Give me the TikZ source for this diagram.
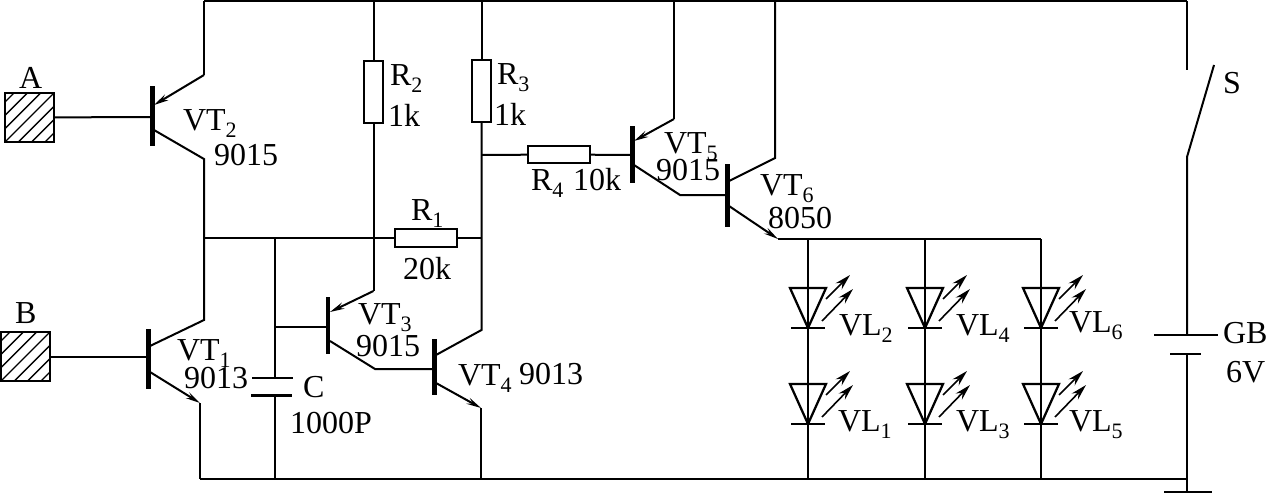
\documentclass[tikz,border=0pt]{standalone}
\usepackage{fontspec}
\setmainfont{Liberation Serif}
\usetikzlibrary{arrows.meta}
\newcommand\sbs[1]{\raisebox{-0.22em}{\fontsize{16.5pt}{16.5pt}\selectfont #1}}
\tikzset{
  wire/.style={line width=1.5pt,line join=miter},
  lbl/.style={anchor=base west,inner sep=0pt,outer sep=0pt,font=\fontsize{24pt}{24pt}\selectfont},
  bar/.style={fill=black,inner sep=0pt,outer sep=0pt,minimum width=3.6pt},
  hres/.style={draw,line width=1.5pt,inner sep=0pt,outer sep=0pt,minimum width=47pt,minimum height=13pt},
  vres/.style={draw,line width=1.5pt,inner sep=0pt,outer sep=0pt,minimum width=14pt,minimum height=47pt},
  pad/.style={draw,line width=1.5pt,inner sep=0pt,outer sep=0pt,minimum size=36.5pt,
    path picture={\foreach \d in {-30,-20,...,30}
      \draw[line width=1pt] ([xshift=\d pt]path picture bounding box.south west) -- ++(40pt,40pt);}},
  earrow/.style={-{Stealth[length=11pt,width=5pt,inset=4pt]}},
  lightarrow/.style={line width=1.2pt,-{Stealth[length=12pt,width=6.5pt,inset=4pt]}},
  plate/.style={line width=1.6pt},
  led/.pic={
    \coordinate (-k) at (0,0);
    \draw[line width=1.7pt,line join=miter] (-18,-40) -- (18,-40) -- (0,0) -- cycle;
    \draw[plate] (-17,0) -- (17,0);
    \draw[lightarrow] (18,-29) -- (42,-53);
    \draw[lightarrow] (14,-7) -- (45,-39);
  }
}
\begin{document}
\begin{tikzpicture}[x=0.75pt,y=-0.75pt]
\useasboundingbox (0,0) rectangle (1267,493);
% rails
\coordinate (tl) at (204,1);
\coordinate (tr) at (1187,1);
\coordinate (bl) at (200,479);
\coordinate (br) at (1187,479);
\draw[wire] (tl) -- (tr);
\draw[wire] (bl) -- (br);
% inputs
\node[pad] (padA) at (29.5,117.5) {};
\node[pad] (padB) at (25.5,356.5) {};
\node[lbl] (lA) at (19,88) {A};
\node[lbl] (lB) at (15,323) {B};
% VT2
\node[bar,minimum height=45pt] (vt2) at (152.5,116) {};
\coordinate (vt2b) at (152,117);
\coordinate (vt2e) at (154,105);
\coordinate (vt2ek) at (204,75);
\coordinate (vt2c) at (154,130);
\coordinate (vt2ck) at (204,159);
\coordinate (j1) at (204,238);
\draw[wire] (padA) -- (vt2b);
\draw[wire] (tl) -- (vt2ek);
\draw[wire,earrow] (vt2ek) -- (vt2e);
\draw[wire] (vt2c) -- (vt2ck) -- (j1);
% VT1
\node[bar,minimum height=45pt] (vt1) at (148.5,359) {};
\coordinate (vt1b) at (148,356.5);
\coordinate (vt1c) at (150,346);
\coordinate (vt1ck) at (204,320);
\coordinate (vt1e) at (150,372);
\coordinate (vt1ek) at (200,403);
\draw[wire] (padB) -- (vt1b);
\draw[wire] (j1) -- (vt1ck) -- (vt1c);
\draw[wire,earrow] (vt1e) -- (vt1ek);
\draw[wire] (vt1ek) -- (bl);
% R1 line
\node[hres] (R1) at (426,238) {};
\coordinate (j2) at (481,238);
\draw[wire] (j1) -- (R1);
\draw[wire] (R1) -- (j2);
% capacitor
\coordinate (cj) at (275,238);
\coordinate (cp1) at (275,378);
\coordinate (cp2) at (275,395.5);
\coordinate (cb) at (275,479);
\coordinate (cj3) at (275,327);
\draw[wire] (cj) -- (cp1);
\draw[wire] (cp2) -- (cb);
\draw[plate] (252,378) -- (293,378);
\draw[plate] (251,395.5) -- (292,395.5);
% R2 and VT3
\node[vres] (R2) at (373.5,92) {};
\coordinate (r2t) at (373.5,1);
\coordinate (vt3ek) at (373.5,291);
\coordinate (vt3e) at (330,312);
\node[bar,minimum height=43pt] (vt3) at (328,325.5) {};
\coordinate (vt3b) at (327,327);
\coordinate (vt3c) at (330,341);
\coordinate (vt3ck) at (375,369);
\draw[wire] (r2t) -- (R2);
\draw[wire] (R2) -- (vt3ek);
\draw[wire,earrow] (vt3ek) -- (vt3e);
\draw[wire] (cj3) -- (vt3b);
% R3 and VT4
\node[vres] (R3) at (481.5,91) {};
\coordinate (r3t) at (481.5,1);
\coordinate (j3) at (481.5,155);
\coordinate (vt4ck) at (481.5,330);
\node[bar,minimum height=42pt] (vt4) at (434.5,367) {};
\coordinate (vt4b) at (434,369);
\coordinate (vt4c) at (436,355);
\coordinate (vt4e) at (436,383);
\coordinate (vt4ek) at (481,408);
\coordinate (vt4g) at (481,479);
\draw[wire] (r3t) -- (R3);
\draw[wire] (R3) -- (vt4ck) -- (vt4c);
\draw[wire] (vt3c) -- (vt3ck) -- (vt4b);
\draw[wire,earrow] (vt4e) -- (vt4ek);
\draw[wire] (vt4ek) -- (vt4g);
% R4 and VT5
\node[hres] (R4) at (559,154.5) {};
\node[bar,minimum height=43pt] (vt5) at (632.5,154.5) {};
\coordinate (vt5b) at (632,155);
\coordinate (vt5t) at (674,1);
\coordinate (vt5ek) at (674,119);
\coordinate (vt5e) at (634,141);
\coordinate (vt5c) at (634,165);
\coordinate (vt5ck) at (680,195);
\draw[wire] (j3) -- (R4);
\draw[wire] (R4) -- (vt5b);
\draw[wire] (vt5t) -- (vt5ek);
\draw[wire,earrow] (vt5ek) -- (vt5e);
% VT6
\node[bar,minimum height=47pt] (vt6) at (727.5,195.5) {};
\coordinate (vt6b) at (727,195);
\coordinate (vt6t) at (775,1);
\coordinate (vt6ck) at (775,158);
\coordinate (vt6c) at (729,181);
\coordinate (vt6e) at (729,206);
\coordinate (vt6ek) at (778,239);
\coordinate (rr) at (1041,239);
\draw[wire] (vt5c) -- (vt5ck) -- (vt6b);
\draw[wire] (vt6t) -- (vt6ck) -- (vt6c);
\draw[wire,earrow] (vt6e) -- (vt6ek);
\draw[wire] (vt6ek) -- (rr);
% LED columns
\foreach \n/\x in {a/808,b/925,c/1041}{
  \coordinate (\n t) at (\x,239);
  \coordinate (\n b) at (\x,479);
  \draw[wire] (\n t) -- (\n b);
}
\pic (vl2) at (808,328) {led};
\pic (vl1) at (808,424) {led};
\pic (vl4) at (925,328) {led};
\pic (vl3) at (925,424) {led};
\pic (vl6) at (1041,328) {led};
\pic (vl5) at (1041,424) {led};
% switch and battery
\coordinate (st) at (1187,1);
\coordinate (sc) at (1187,70);
\coordinate (sp) at (1187,157);
\coordinate (sb) at (1214,65);
\coordinate (b1) at (1187,335);
\coordinate (b2) at (1187,354);
\coordinate (g) at (1187,492);
\draw[wire] (st) -- (sc);
\draw[wire] (sb) -- (sp) -- (b1);
\draw[wire] (b2) -- (g);
\draw[plate] (1154,335) -- (1218,335);
\draw[plate] (1170,354) -- (1201,354);
\draw[plate] (1164,491.8) -- (1212,491.8);
% labels
\node[lbl] (tVT2) at (183,130) {VT\sbs{2}};
\node[lbl] (n2) at (214,165) {9015};
\node[lbl] (tVT1) at (177,360) {VT\sbs{1}};
\node[lbl] (n1) at (184,388) {9013};
\node[lbl] (tC) at (303,397) {C};
\node[lbl] (tCv) at (290,433) {1000P};
\node[lbl] (tR2) at (390,85) {R\sbs{2}};
\node[lbl] (vR2) at (388,126) {1k};
\node[lbl] (tR3) at (497,84) {R\sbs{3}};
\node[lbl] (vR3) at (494,125) {1k};
\node[lbl] (tR1) at (411,220) {R\sbs{1}};
\node[lbl] (vR1) at (403,279) {20k};
\node[lbl] (tVT3) at (358,324) {VT\sbs{3}};
\node[lbl] (n3) at (356,356) {9015};
\node[lbl] (tVT4) at (458,385) {VT\sbs{4}};
\node[lbl] (n4) at (519,384) {9013};
\node[lbl] (tR4) at (531,190) {R\sbs{4}};
\node[lbl] (vR4) at (573,190) {10k};
\node[lbl] (tVT5) at (664,153) {VT\sbs{5}};
\node[lbl] (n5) at (656,180) {9015};
\node[lbl] (tVT6) at (760,195) {VT\sbs{6}};
\node[lbl] (n6) at (768,228) {8050};
\node[lbl] (tL2) at (839,335) {VL\sbs{2}};
\node[lbl] (tL1) at (838,431) {VL\sbs{1}};
\node[lbl] (tL4) at (956,335) {VL\sbs{4}};
\node[lbl] (tL3) at (956,431) {VL\sbs{3}};
\node[lbl] (tL6) at (1069,332) {VL\sbs{6}};
\node[lbl] (tL5) at (1069,431) {VL\sbs{5}};
\node[lbl] (tS) at (1223,93) {S};
\node[lbl] (tGB) at (1223,343) {GB};
\node[lbl] (tV) at (1226,382) {6V};
\end{tikzpicture}
\end{document}
